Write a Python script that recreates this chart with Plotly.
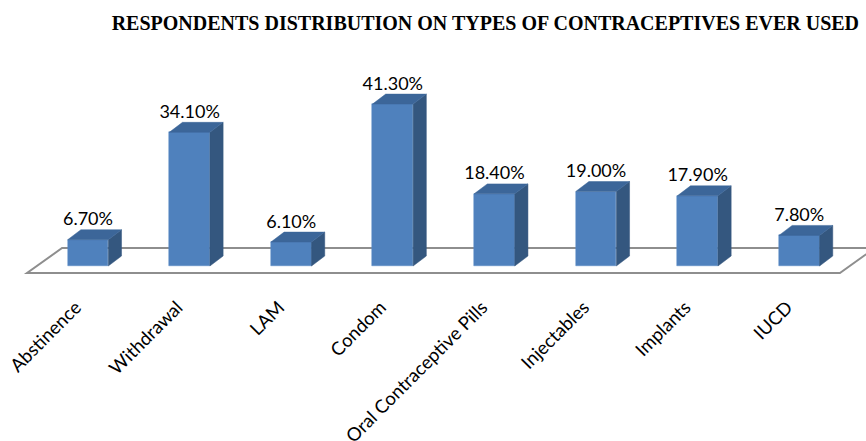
import plotly.graph_objects as go

# Survey results: share of respondents who ever used each method (%)
methods = ["Abstinence", "Withdrawal", "LAM", "Condom",
           "Oral Contraceptive Pills", "Injectables", "Implants", "IUCD"]
percent_used = [6.7, 34.1, 6.1, 41.3, 18.4, 19.0, 17.9, 7.8]

# Pseudo-3D geometry (in axis units)
BAR_W = 0.40      # front face width (category units)
DEPTH_X = 0.13    # receding offset to the right
DEPTH_Y = 2.55    # receding offset upwards (%)
LABEL_SHIFT = -0.12  # category labels sit slightly left of the bar centre

FRONT = "#4F81BD"
SIDE = "#34577F"
TOP = "#3C6699"

pos = list(range(len(methods)))

fig = go.Figure()

# Floor plane of the 3D chart, kept underneath all traces
fx0, fx1, fsx = -0.60, 7.40, 0.345
fy0, fy1 = -1.79, 4.59
fig.add_shape(
    type="path", xref="x", yref="y", layer="below",
    path=(f"M {fx0},{fy0} L {fx1},{fy0} L {fx1 + fsx},{fy1} "
          f"L {fx0 + fsx},{fy1} Z"),
    fillcolor="white", line=dict(color="#8E8E8E", width=2))

# Front faces
fig.add_trace(go.Bar(
    x=pos, y=percent_used, width=BAR_W,
    marker=dict(color=FRONT, line=dict(color="#5B8CC6", width=0.5)),
    hoverinfo="skip", showlegend=False))

# Side and top faces, built from the same values
side_x, side_y, top_x, top_y = [], [], [], []
for p, v in zip(pos, percent_used):
    r = p + BAR_W / 2
    l = p - BAR_W / 2
    side_x += [r, r + DEPTH_X, r + DEPTH_X, r, r, None]
    side_y += [0, DEPTH_Y, v + DEPTH_Y, v, 0, None]
    top_x += [l, r, r + DEPTH_X, l + DEPTH_X, l, None]
    top_y += [v, v, v + DEPTH_Y, v + DEPTH_Y, v, None]

fig.add_trace(go.Scatter(
    x=side_x, y=side_y, mode="lines", fill="toself", fillcolor=SIDE,
    line=dict(color=SIDE, width=0.5), hoverinfo="skip", showlegend=False))
fig.add_trace(go.Scatter(
    x=top_x, y=top_y, mode="lines", fill="toself", fillcolor=TOP,
    line=dict(color=TOP, width=0.5), hoverinfo="skip", showlegend=False))

# Value labels above each bar
fig.add_trace(go.Scatter(
    x=pos, y=[v + DEPTH_Y for v in percent_used], mode="text",
    text=[f"{v:.2f}%" for v in percent_used], textposition="top center",
    textfont=dict(family="Lato", size=18, color="#000000"),
    hoverinfo="skip", showlegend=False, cliponaxis=False))

fig.update_layout(
    width=866, height=441,
    margin=dict(l=0, r=0, t=40, b=149, autoexpand=False),
    paper_bgcolor="white", plot_bgcolor="white",
    title=dict(
        text="<b>RESPONDENTS DISTRIBUTION ON TYPES OF CONTRACEPTIVES EVER USED</b>",
        font=dict(family="Liberation Serif", size=20, color="#000000"),
        x=0.992, xanchor="right", y=0.948, yanchor="middle"),
    xaxis=dict(
        range=[-0.866, 7.657], showgrid=False, zeroline=False, showline=False,
        automargin=False,
        tickmode="array", tickvals=[p + LABEL_SHIFT for p in pos],
        ticktext=methods, tickangle=-45, ticks="",
        tickfont=dict(family="Lato", size=18.5, color="#000000")),
    yaxis=dict(
        range=[-6.63, 57.65], visible=False, showgrid=False, zeroline=False,
        automargin=False),
    bargap=0,
)

fig.write_html("out.html")
